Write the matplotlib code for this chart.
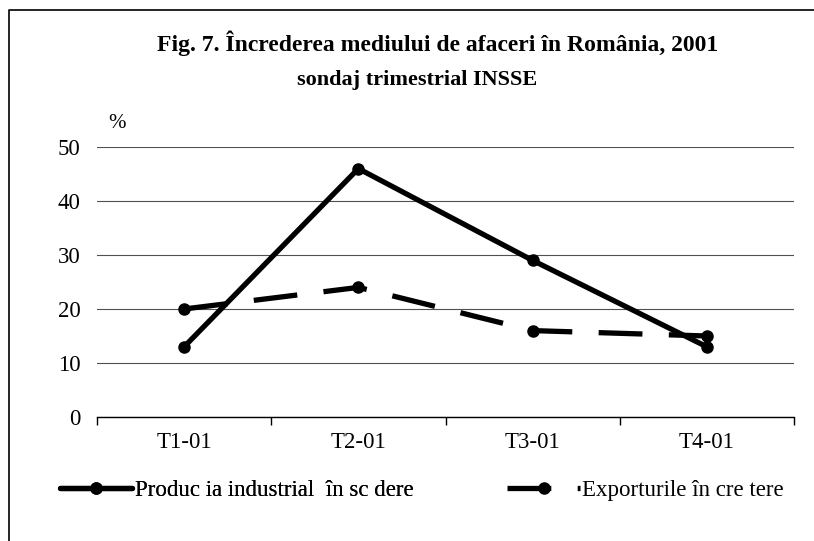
import matplotlib
matplotlib.use("Agg")
import matplotlib.pyplot as plt
from matplotlib.lines import Line2D

plt.rcParams['font.family'] = ['Liberation Serif', 'DejaVu Serif']

quarters = ["T1-01", "T2-01", "T3-01", "T4-01"]
productie = [13, 46, 29, 13]
exporturi = [20, 24, 16, 15]
label_prod = "Produc ia industrial  în sc dere"
label_exp = "Exporturile în cre tere"
title1 = "Fig. 7. Încrederea mediului de afaceri în România, 2001"
title2 = "sondaj trimestrial INSSE"

W, H = 814, 541
fig = plt.figure(figsize=(W / 100, H / 100), dpi=100)
ax = fig.add_axes([97 / W, 1 - 417 / H, 697 / W, 270 / H])

x = list(range(len(quarters)))
lw = 3.8
l1, = ax.plot(x, productie, color='black', lw=lw, marker='o', markersize=8,
              solid_capstyle='round', zorder=3)
l2, = ax.plot(x, exporturi, color='black', lw=lw, marker='o', markersize=8,
              dashes=(8.3, 5), dash_capstyle='butt', zorder=3)

ax.set_xlim(-0.5, len(quarters) - 0.5)
ax.set_ylim(0, 50)
ax.set_yticks(range(0, 51, 10))
ax.yaxis.grid(True, color='#505050', lw=0.8)
ax.set_axisbelow(True)
for s in ['left', 'right', 'top']:
    ax.spines[s].set_visible(False)
ax.spines['bottom'].set_linewidth(1.0)
ax.tick_params(axis='y', length=0, pad=12, labelsize=16.5)

ax.set_xticks([i + 0.5 for i in range(-1, len(quarters))])
ax.set_xticklabels([])
ax.tick_params(axis='x', which='major', length=6, width=1, direction='out')
ax.set_xticks(x, minor=True)
ax.set_xticklabels(quarters, minor=True)
ax.tick_params(axis='x', which='minor', length=0, pad=11, labelsize=16.5)

fig.text(438 / W, 1 - 51 / H, title1, ha='center', va='baseline',
         fontsize=17, fontweight='bold')
fig.text(417 / W, 1 - 85 / H, title2, ha='center', va='baseline',
         fontsize=16, fontweight='bold')
fig.text(117 / W, 1 - 124 / H, "%", ha='center', va='center', fontsize=15)

leg1 = fig.legend([l1], [label_prod], loc='center left',
                  bbox_to_anchor=(60 / W, 1 - 490 / H), frameon=False,
                  fontsize=16.5, handlelength=3.13, handletextpad=0.13,
                  borderpad=0, borderaxespad=0)
leg2 = fig.legend([l2], [label_exp], loc='center left',
                  bbox_to_anchor=(507 / W, 1 - 490 / H), frameon=False,
                  fontsize=16.5, handlelength=3.2, handletextpad=0.08,
                  borderpad=0, borderaxespad=0)
fig.add_artist(leg1)

fig.add_artist(Line2D([9 / W, 9 / W, 1], [0, 1 - 10 / H, 1 - 10 / H],
                      transform=fig.transFigure, color='black', lw=1.2))

fig.savefig("out.png", dpi=100)
